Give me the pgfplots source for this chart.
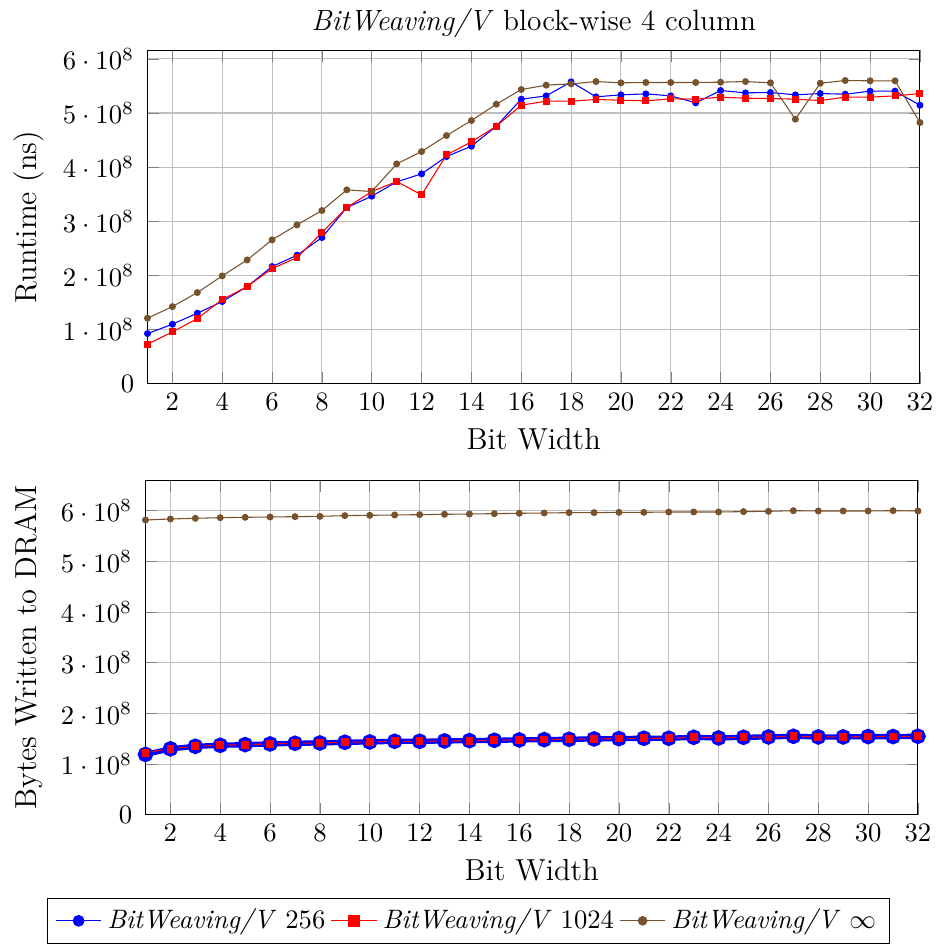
\documentclass[border=0pt]{standalone}
\usepackage{pgfplots}
\pgfplotsset{compat=1.18}
\usepackage{pgfplotstable}

\definecolor{bwbrown}{RGB}{120,82,45}

% Runtime (ns) per bit width
\pgfplotstableread{
x  b256     b1024    binf
1  0.924e8  0.727e8  1.208e8
2  1.097e8  0.955e8  1.423e8
3  1.300e8  1.201e8  1.682e8
4  1.516e8  1.553e8  1.990e8
5  1.793e8  1.793e8  2.286e8
6  2.163e8  2.126e8  2.656e8
7  2.372e8  2.329e8  2.933e8
8  2.699e8  2.791e8  3.198e8
9  3.253e8  3.253e8  3.580e8
10 3.463e8  3.549e8  3.549e8
11 3.728e8  3.734e8  4.060e8
12 3.876e8  3.487e8  4.288e8
13 4.196e8  4.227e8  4.584e8
14 4.387e8  4.467e8  4.861e8
15 4.757e8  4.757e8  5.163e8
16 5.256e8  5.145e8  5.434e8
17 5.317e8  5.219e8  5.515e8
18 5.576e8  5.219e8  5.539e8
19 5.299e8  5.250e8  5.582e8
20 5.336e8  5.237e8  5.558e8
21 5.354e8  5.225e8  5.564e8
22 5.317e8  5.262e8  5.564e8
23 5.188e8  5.256e8  5.564e8
24 5.416e8  5.293e8  5.570e8
25 5.373e8  5.274e8  5.582e8
26 5.379e8  5.268e8  5.558e8
27 5.336e8  5.256e8  4.886e8
28 5.360e8  5.231e8  5.551e8
29 5.348e8  5.293e8  5.601e8
30 5.404e8  5.293e8  5.595e8
31 5.404e8  5.317e8  5.595e8
32 5.145e8  5.360e8  4.824e8
}\runtime

% Bytes written to DRAM per bit width
\pgfplotstableread{
x  b256     b1024    binf
1  1.190e8  1.225e8  5.817e8
2  1.300e8  1.304e8  5.837e8
3  1.350e8  1.350e8  5.850e8
4  1.370e8  1.370e8  5.863e8
5  1.383e8  1.383e8  5.870e8
6  1.397e8  1.397e8  5.876e8
7  1.410e8  1.410e8  5.883e8
8  1.416e8  1.416e8  5.889e8
9  1.430e8  1.430e8  5.903e8
10 1.436e8  1.436e8  5.909e8
11 1.449e8  1.449e8  5.916e8
12 1.449e8  1.449e8  5.922e8
13 1.456e8  1.456e8  5.929e8
14 1.462e8  1.462e8  5.935e8
15 1.469e8  1.469e8  5.942e8
16 1.476e8  1.476e8  5.949e8
17 1.482e8  1.482e8  5.955e8
18 1.489e8  1.489e8  5.962e8
19 1.495e8  1.495e8  5.962e8
20 1.502e8  1.502e8  5.968e8
21 1.509e8  1.509e8  5.968e8
22 1.509e8  1.509e8  5.975e8
23 1.528e8  1.528e8  5.975e8
24 1.515e8  1.515e8  5.975e8
25 1.528e8  1.528e8  5.982e8
26 1.535e8  1.535e8  5.988e8
27 1.548e8  1.548e8  6.001e8
28 1.535e8  1.535e8  5.995e8
29 1.535e8  1.535e8  5.995e8
30 1.542e8  1.542e8  5.995e8
31 1.542e8  1.542e8  6.001e8
32 1.548e8  1.548e8  5.995e8
}\dram

\pgfplotsset{
  bwbase/.style={
    scale only axis,
    width=289.9pt,
    xmin=1, xmax=32,
    ymin=0,
    xtick={2,4,...,32},
    ytick={0,1e8,2e8,3e8,4e8,5e8,6e8},
    scaled y ticks=false,
    yticklabel style={xshift=-1.5pt},
    grid=major,
    xlabel={Bit Width},
    label style={font=\fontsize{11.4}{14}\selectfont},
  },
}

\begin{document}
\begin{tikzpicture}
\begin{axis}[bwbase,
  height=125.1pt,
  ymax=6.16e8,
  ylabel={Runtime (ns)},
  title style={font=\fontsize{11}{13.5}\selectfont, yshift=-5pt},
  title={\textit{BitWeaving/V} block-wise 4 column},
]
\addplot[blue, mark=*, mark size=1.1pt] table[x=x, y=b256] {\runtime};
\addplot[red, mark=square*, mark size=1.1pt] table[x=x, y=b1024] {\runtime};
\addplot[bwbrown, mark=*, mark size=1.1pt] table[x=x, y=binf] {\runtime};
\end{axis}

\begin{axis}[bwbase,
  at={(-0.75pt,-36.3pt)}, anchor=north west,
  height=125.5pt,
  ymax=6.6e8,
  ylabel={Bytes Written to DRAM},
  legend columns=3,
  legend style={at={(0.418,-0.248)}, anchor=north, draw=black,
    /tikz/every even column/.append style={column sep=0pt}},
]
\addlegendimage{blue, mark=*, mark size=2pt}
\addlegendentry{\textit{BitWeaving/V} 256}
\addlegendimage{red, mark=square*, mark size=2pt}
\addlegendentry{\textit{BitWeaving/V} 1024}
\addlegendimage{bwbrown, mark=*, mark size=1.6pt}
\addlegendentry{\textit{BitWeaving/V} $\infty$}
\addplot[blue, line width=2pt, mark=*, mark size=1.9pt, forget plot] table[x=x, y=b256] {\dram};
\addplot[red, mark=square*, mark size=1.25pt, forget plot] table[x=x, y=b1024] {\dram};
\addplot[bwbrown, mark=*, mark size=1.1pt, forget plot] table[x=x, y=binf] {\dram};
\end{axis}
% a little white margin on the left
\path ([xshift=-2pt]current bounding box.west);
\end{tikzpicture}
\end{document}
